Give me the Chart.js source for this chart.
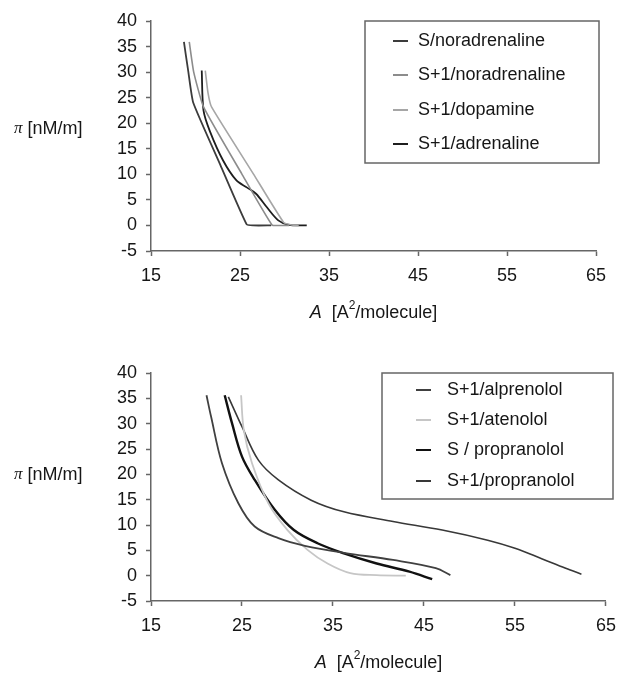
<!DOCTYPE html>
<html>
<head>
<meta charset="utf-8">
<script src="https://cdn.jsdelivr.net/npm/chart.js@4/dist/chart.umd.min.js"></script>
<style>
  html, body { margin: 0; padding: 0; background: #fff; }
  canvas { display: block; }
</style>
</head>
<body>
<canvas id="chart-top" width="625" height="330"></canvas>
<canvas id="chart-bottom" width="625" height="343"></canvas>
<script>
// top panel: catecholamines
var sNorA = [18.7, 19.2, 19.75, 22.8, 25.75, 26.5, 28.5];
var sNorPi = [35.9, 30, 24, 11.8, 0.2, 0, 0];
var s1NorA = [19.3, 19.8, 20.9, 25.2, 28.6, 29.5, 30.5];
var s1NorPi = [35.9, 30, 23.2, 10.1, 0.1, 0, 0];
var s1DopA = [21.1, 21.4, 21.8, 26.5, 29.9, 30.8, 31.6];
var s1DopPi = [30.3, 26, 23.2, 10.1, 0.6, 0.1, 0];
var s1AdrA = [20.7, 20.9, 21.6, 23.1, 24.6, 25.8, 26.8, 28, 29.3, 30.5, 32.5];
var s1AdrPi = [30.3, 22.5, 18.5, 12.7, 8.8, 7.4, 6.2, 3.6, 1, 0.1, 0];

// bottom panel: beta blockers
var s1AlpA = [21.1, 21.6, 22.8, 24.6, 26.4, 29, 31.9, 36.2, 41.6, 46.3, 47.9];
var s1AlpPi = [35.6, 31.4, 22.2, 14.3, 9.7, 7.4, 5.9, 4.5, 3.1, 1.5, 0.1];
var s1AteA = [24.9, 25.2, 26.1, 27.9, 30, 32.2, 34.4, 36.9, 39.8, 43];
var s1AtePi = [35.6, 28.7, 22.2, 14.3, 9, 5.1, 2.4, 0.5, 0.1, 0];
var sProA = [23.1, 23.9, 25, 26.4, 28.6, 30.7, 33.3, 36.2, 39.8, 43.4, 45.9];
var sProPi = [35.6, 30.1, 23.5, 18.9, 13, 9, 6.4, 4.4, 2.4, 0.8, -0.7];
var s1ProA = [23.5, 25, 26.8, 29, 32.6, 36.2, 41.6, 47, 52, 55, 58, 60.5, 62.3];
var s1ProPi = [35.3, 29.4, 22.8, 18.9, 14.9, 12.6, 10.7, 9, 7, 5.4, 3.3, 1.5, 0.3];

var xTicks = [15, 25, 35, 45, 55, 65];
var yTicks = [-5, 0, 5, 10, 15, 20, 25, 30, 35, 40];

var FONT = '"Liberation Sans", Arial, sans-serif';
var INK = '#161616';

function pts(xs, ys) {
  return xs.map(function (x, i) { return { x: x, y: ys[i] }; });
}

function series(label, xs, ys, color, width, tension) {
  return {
    label: label,
    data: pts(xs, ys),
    borderColor: color,
    backgroundColor: color,
    borderWidth: width,
    showLine: true,
    pointRadius: 0,
    tension: tension,
  };
}

// horizontal y title, x title with italic A and superscript, boxed legend
var decor = {
  id: 'decor',
  afterDraw: function (chart, _args, o) {
    var ctx = chart.ctx;
    var a = chart.chartArea;
    ctx.save();
    ctx.fillStyle = INK;
    ctx.textBaseline = 'middle';
    ctx.textAlign = 'left';

    // y title
    ctx.font = 'italic 17px "Liberation Serif", serif';
    ctx.fillText('\u03c0', o.yTitleX, o.yTitleY);
    var w = ctx.measureText('\u03c0').width;
    ctx.font = '18px ' + FONT;
    ctx.fillText(' [nM/m]', o.yTitleX + w, o.yTitleY);

    // x title
    var parts = [
      ['italic 18px ' + FONT, 'A', 0],
      ['18px ' + FONT, '  [A', 0],
      ['12px ' + FONT, '2', -7],
      ['18px ' + FONT, '/molecule]', 0],
    ];
    var total = 0;
    parts.forEach(function (p) { ctx.font = p[0]; total += ctx.measureText(p[1]).width; });
    var x = (a.left + a.right) / 2 - total / 2;
    parts.forEach(function (p) {
      ctx.font = p[0];
      ctx.fillText(p[1], x, o.xTitleY + p[2]);
      x += ctx.measureText(p[1]).width;
    });

    // legend box
    var b = o.box;
    ctx.strokeStyle = '#666';
    ctx.lineWidth = 1.5;
    ctx.strokeRect(b.left, b.top, b.right - b.left, b.bottom - b.top);
    ctx.font = '18px ' + FONT;
    chart.data.datasets.forEach(function (ds, i) {
      var y = o.rows[i];
      ctx.strokeStyle = ds.borderColor;
      ctx.lineWidth = 2;
      ctx.beginPath();
      ctx.moveTo(o.lineX, y);
      ctx.lineTo(o.lineX + 15, y);
      ctx.stroke();
      ctx.fillStyle = INK;
      ctx.fillText(ds.label, o.textX, y);
    });
    ctx.restore();
  },
};

function makeScales(xHeight) {
  var common = {
    type: 'linear',
    border: { color: '#666', width: 1.5 },
    grid: { drawOnChartArea: false, tickLength: 5, tickColor: '#666', tickWidth: 1.5 },
  };
  return {
    x: Object.assign({}, common, {
      min: 15, max: 65,
      afterBuildTicks: function (s) { s.ticks = xTicks.map(function (v) { return { value: v }; }); },
      afterFit: function (s) { s.height = xHeight; },
      ticks: { padding: 9, color: INK, font: { family: FONT, size: 18 }, maxRotation: 0 },
    }),
    y: Object.assign({}, common, {
      min: -5, max: 40,
      afterBuildTicks: function (s) { s.ticks = yTicks.map(function (v) { return { value: v }; }); },
      afterFit: function (s) { s.width = 151; },
      ticks: { padding: 9, color: INK, font: { family: FONT, size: 18 } },
    }),
  };
}

function makeChart(id, datasets, padding, xHeight, decorOpts) {
  return new Chart(document.getElementById(id).getContext('2d'), {
    type: 'scatter',
    plugins: [decor],
    data: { datasets: datasets },
    options: {
      responsive: false,
      animation: false,
      layout: { padding: padding },
      plugins: { legend: { display: false }, tooltip: { enabled: false }, decor: decorOpts },
      scales: makeScales(xHeight),
    },
  });
}

makeChart('chart-top', [
  series('S/noradrenaline', sNorA, sNorPi, '#3c3c3c', 1.8, 0.15),
  series('S+1/noradrenaline', s1NorA, s1NorPi, '#8c8c8c', 1.6, 0.15),
  series('S+1/dopamine', s1DopA, s1DopPi, '#a6a6a6', 1.6, 0.15),
  series('S+1/adrenaline', s1AdrA, s1AdrPi, '#1e1e1e', 1.8, 0.3),
], { left: 0, right: 29, top: 21, bottom: 0 }, 79, {
  yTitleX: 14, yTitleY: 129, xTitleY: 313,
  box: { left: 365, right: 599, top: 21, bottom: 163 },
  rows: [41, 75, 110, 144], lineX: 393, textX: 418,
});

makeChart('chart-bottom', [
  series('S+1/alprenolol', s1AlpA, s1AlpPi, '#404040', 1.8, 0.35),
  series('S+1/atenolol', s1AteA, s1AtePi, '#c6c6c6', 1.8, 0.35),
  series('S / propranolol', sProA, sProPi, '#111111', 2.4, 0.35),
  series('S+1/propranolol', s1ProA, s1ProPi, '#383838', 1.6, 0.35),
], { left: 0, right: 12, top: 43, bottom: 0 }, 72, {
  yTitleX: 14, yTitleY: 145, xTitleY: 333,
  box: { left: 382, right: 613, top: 43, bottom: 169 },
  rows: [60, 90, 120, 151], lineX: 416, textX: 447,
});
</script>
</body>
</html>
